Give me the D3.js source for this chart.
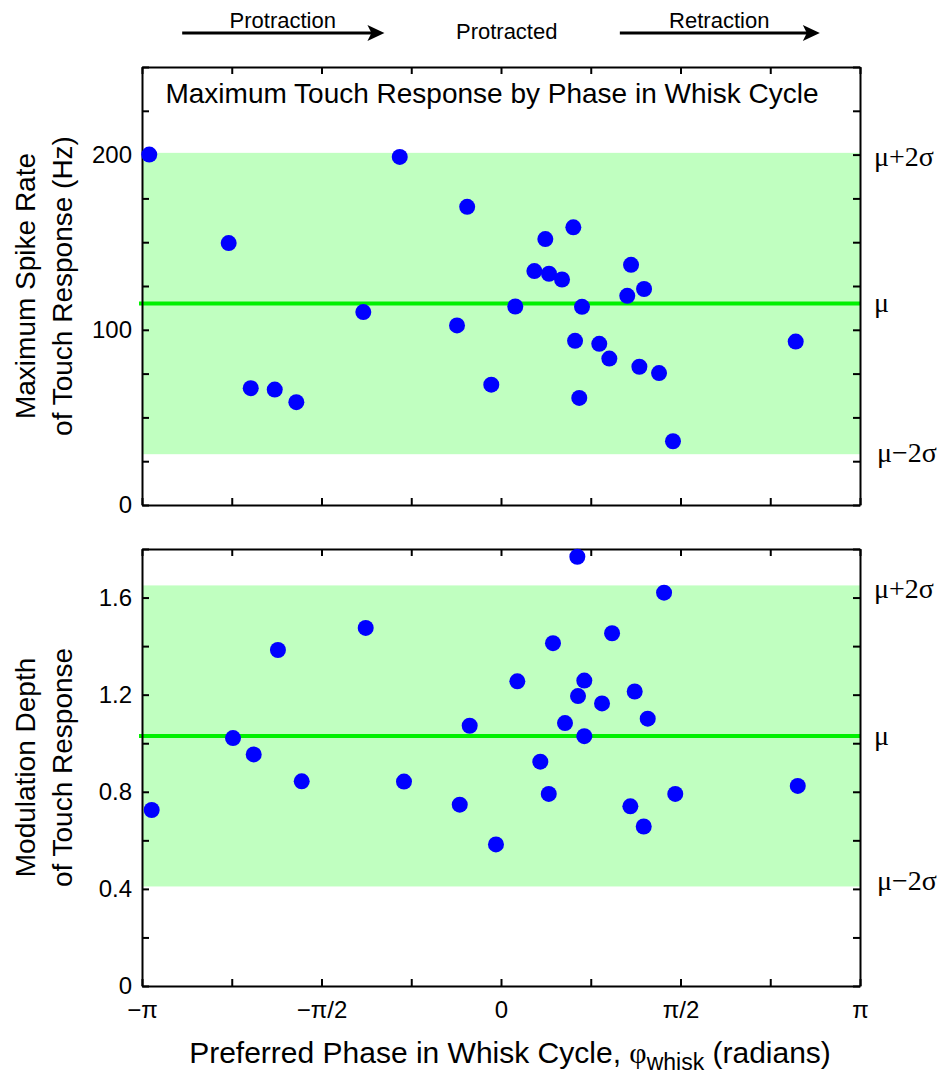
<!DOCTYPE html>
<meta charset="utf-8">
<title>Maximum Touch Response by Phase in Whisk Cycle</title>
<style>body{margin:0;background:#fff}</style>
<svg width="950" height="1079"></svg>
<script src="https://d3js.org/d3.v7.min.js"></script>
<script>

// preferred phase (radians) and peak rate (Hz), one per cell
var phaseRate = [-3.078, -2.383, -2.190, -1.980, -1.791, -1.205, -0.886, -0.385, -0.296, -0.085,
  0.125, 0.292, 0.388, 0.420, 0.534, 0.633, 0.648, 0.685, 0.709, 0.860,
  0.948, 1.105, 1.138, 1.211, 1.252, 1.383, 1.505, 2.579];
var spikeRate = [200, 149.5, 66.7, 65.9, 58.7, 110.1, 198.7, 102.5, 170.2, 68.7,
  113.3, 133.5, 151.8, 132, 128.7, 158.5, 93.7, 61.1, 113.1, 92,
  83.6, 119.4, 137.1, 78.9, 123.3, 75.3, 36.4, 93.3];

// preferred phase (radians) and modulation depth
var phaseDepth = [-3.057, -2.345, -2.164, -1.952, -1.744, -1.184, -0.849, -0.361, -0.274, -0.044,
  0.143, 0.344, 0.418, 0.455, 0.560, 0.668, 0.674, 0.729, 0.729, 0.884,
  0.972, 1.132, 1.170, 1.249, 1.284, 1.427, 1.525, 2.597];
var modDepth = [0.725, 1.021, 0.954, 1.384, 0.843, 1.475, 0.842, 0.747, 1.072, 0.583,
  1.255, 0.924, 0.791, 1.412, 1.083, 1.768, 1.194, 1.258, 1.029, 1.164,
  1.453, 0.740, 1.213, 0.657, 1.101, 1.620, 0.791, 0.824];

var rateStats = [115, 43];     // mean, sd
var depthStats = [1.03, 0.31];

var xTickLabels = ["−π", "", "−π/2", "", "0", "", "π/2", "", "π"];
var statNames = ["μ+2σ", "μ", "μ−2σ"];
var statK = [2, 0, -2];

var cycleNames = ["Protraction", "Protracted", "Retraction"];
var cyclePhase = [-1.91, 0.05, 1.91];
var arrowSpans = [[-2.79, -1.02], [1.04, 2.79]];

var svg = d3.select("svg"),
    sans = "'Liberation Sans', Arial, sans-serif",
    serif = "'Liberation Serif', 'Times New Roman', serif";

var x = d3.scaleLinear().domain([-Math.PI, Math.PI]).range([142, 860]);
var xTicks = d3.range(9).map(function(i) { return -Math.PI + i * Math.PI / 4; });

function panel(opt) {
  var y = d3.scaleLinear().domain(opt.domain).range([opt.bottom, opt.top]);
  var g = svg.append("g");
  var mu = opt.stats[0], sd = opt.stats[1];

  // +-2 sd band
  g.append("rect")
      .attr("x", x.range()[0])
      .attr("y", y(mu + 2 * sd))
      .attr("width", x.range()[1] - x.range()[0])
      .attr("height", y(mu - 2 * sd) - y(mu + 2 * sd))
      .attr("fill", "#c0ffc0");

  g.append("line")
      .attr("x1", x.range()[0] - 3)
      .attr("x2", x.range()[1])
      .attr("y1", y(mu)).attr("y2", y(mu))
      .attr("stroke", "#00f000")
      .attr("stroke-width", 4);

  var yTicks = d3.range(opt.domain[0], opt.domain[1] + 1e-9, opt.step);

  var left = g.append("g")
      .attr("transform", "translate(" + x.range()[0] + ",0)")
      .call(d3.axisLeft(y).tickValues(yTicks).tickSize(-7).tickSizeOuter(0).tickPadding(10)
        .tickFormat(opt.fmt));
  var right = g.append("g")
      .attr("transform", "translate(" + x.range()[1] + ",0)")
      .call(d3.axisRight(y).tickValues(yTicks).tickSize(-7).tickSizeOuter(0).tickFormat(""));
  var top = g.append("g")
      .attr("transform", "translate(0," + opt.top + ")")
      .call(d3.axisTop(x).tickValues(xTicks).tickSize(-7).tickSizeOuter(0).tickFormat(""));
  var bottom = g.append("g")
      .attr("transform", "translate(0," + opt.bottom + ")")
      .call(d3.axisBottom(x).tickValues(xTicks).tickSize(-7).tickSizeOuter(0).tickPadding(15)
        .tickFormat(function(d, i) { return opt.xLabels ? xTickLabels[i] : ""; }));

  [left, right, top, bottom].forEach(function(a) {
    a.selectAll("path, line").attr("stroke", "#000").attr("stroke-width", 2);
    a.selectAll("text").attr("font-family", sans).attr("font-size", 24).attr("fill", "#000");
  });

  // right side labels
  g.selectAll(".stat")
    .data(statNames)
    .enter().append("text")
      .attr("x", function(d, i) { return x.range()[1] + (statK[i] < 0 ? 17 : 14); })
      .attr("y", function(d, i) {
        var shift = statK[i] < 0 ? opt.lowShift : (statK[i] > 0 ? 3 : -1);
        return y(mu + statK[i] * sd) + shift;
      })
      .attr("dy", "0.35em")
      .attr("font-family", serif)
      .attr("font-size", 28)
      .text(function(d) { return d; });

  g.selectAll("circle")
    .data(opt.xs)
    .enter().append("circle")
      .attr("cx", function(d) { return x(d); })
      .attr("cy", function(d, i) { return y(opt.ys[i]); })
      .attr("r", 8)
      .attr("fill", "#0000ff");

  var title = g.append("text")
      .attr("transform", "translate(0," + (opt.top + opt.bottom) / 2 + ") rotate(-90)")
      .attr("text-anchor", "middle")
      .attr("font-family", sans)
      .attr("font-size", 28);
  title.append("tspan").attr("x", 0).attr("y", 35).text(opt.label[0]);
  title.append("tspan").attr("x", 0).attr("y", 72).text(opt.label[1]);
}

panel({
  top: 67, bottom: 505, domain: [0, 250], step: 25,
  fmt: function(d) { return d % 100 === 0 ? d : ""; },
  stats: rateStats, xs: phaseRate, ys: spikeRate, lowShift: -2,
  label: ["Maximum Spike Rate", "of Touch Response (Hz)"]
});

panel({
  top: 549, bottom: 986, domain: [0, 1.8], step: 0.2,
  fmt: function(d) {
    var r = Math.round(d * 10);
    return r % 4 === 0 ? (r === 0 ? "0" : d3.format(".1f")(d)) : "";
  },
  stats: depthStats, xs: phaseDepth, ys: modDepth, xLabels: true, lowShift: -6,
  label: ["Modulation Depth", "of Touch Response"]
});

// panel title
svg.append("text")
    .attr("x", x(0) - 9)
    .attr("y", 103)
    .attr("text-anchor", "middle")
    .attr("font-family", sans)
    .attr("font-size", 28)
    .text("Maximum Touch Response by Phase in Whisk Cycle");

// whisk cycle arrows on top
var arrows = svg.append("g").attr("fill", "#000").attr("stroke", "#000");
arrowSpans.forEach(function(s) {
  var a = x(s[0]), b = x(s[1]);
  arrows.append("line")
      .attr("x1", a).attr("x2", b - 10)
      .attr("y1", 33).attr("y2", 33)
      .attr("stroke-width", 3);
  arrows.append("path")
      .attr("stroke", "none")
      .attr("d", "M" + b + ",33L" + (b - 17) + ",25L" + (b - 13) + ",33L" + (b - 17) + ",41Z");
});

svg.selectAll(".cycle")
  .data(cycleNames)
  .enter().append("text")
    .attr("x", function(d, i) { return x(cyclePhase[i]); })
    .attr("y", function(d, i) { return i === 1 ? 39 : 28; })
    .attr("text-anchor", "middle")
    .attr("font-family", sans)
    .attr("font-size", 22)
    .text(function(d) { return d; });

// x axis title
var xt = svg.append("text")
    .attr("x", 510)
    .attr("y", 1063)
    .attr("text-anchor", "middle")
    .attr("font-family", sans)
    .attr("font-size", 30);
xt.append("tspan").text("Preferred Phase in Whisk Cycle, ");
xt.append("tspan").attr("font-family", serif).text("φ");
xt.append("tspan").attr("font-size", 23).attr("dy", 7).text("whisk");
xt.append("tspan").attr("dy", -7).text(" (radians)");

</script>
